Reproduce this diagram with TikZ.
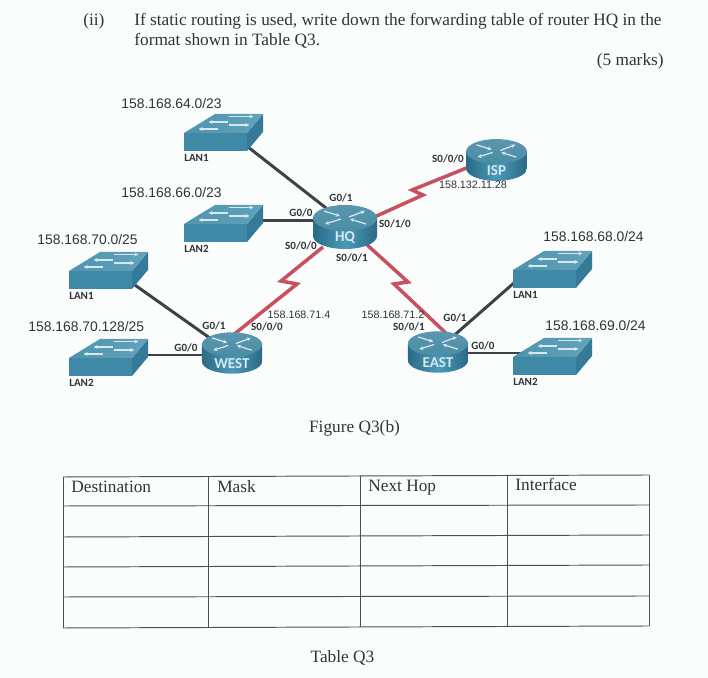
\documentclass[tikz,border=0pt]{standalone}
\usepackage{fontspec}
\setmainfont{Liberation Serif}
\newfontfamily\ipfont{Liberation Sans}
\newfontfamily\portfont{Carlito}
\usetikzlibrary{backgrounds, arrows.meta}

\definecolor{papercol}{HTML}{FBFDFD}
\definecolor{inkcol}{HTML}{303438}
\definecolor{wancol}{HTML}{C9505E}
\definecolor{lancol}{HTML}{3E4246}
\definecolor{gridcol}{HTML}{4C5054}
\definecolor{arrowcol}{HTML}{D5E8EF}
\definecolor{bodyedge}{HTML}{2A6A85}
\definecolor{bodymid}{HTML}{4A9AB8}
\definecolor{toplight}{HTML}{5B97AE}
\definecolor{topdark}{HTML}{4A8CA6}
\definecolor{swfront}{HTML}{3F88A6}
\definecolor{swside}{HTML}{357A98}
\definecolor{swtopa}{HTML}{4F93AE}
\definecolor{swtopb}{HTML}{62A3BB}

\tikzset{
    bodytext/.style={anchor=base west, inner sep=0pt, text=inkcol, font=\fontsize{9.85}{11}\selectfont},
    bigip/.style={anchor=west, inner sep=0pt, text=inkcol, font=\ipfont\fontsize{7.9}{9}\selectfont},
    smallip/.style={inner sep=0pt, text=inkcol, font=\ipfont\fontsize{6.1}{7}\selectfont},
    portlabel/.style={inner sep=0pt, text=inkcol, font=\portfont\bfseries\fontsize{6.3}{7}\selectfont},
    routerbox/.style={inner sep=0pt, text=arrowcol, font=\portfont\bfseries\fontsize{8.6}{10}\selectfont},
    switchbox/.style={inner sep=0pt, minimum width=1.58cm, minimum height=0.74cm},
    wanlink/.style={wancol, line width=2pt, line join=miter},
    lanlink/.style={lancol, line width=1.7pt},
    gridline/.style={gridcol, line width=0.55pt},
    iconarrow/.style={arrowcol, line width=0.7pt, -{Stealth[length=2.4pt,width=2.2pt]}},
    routerpic/.pic={
        % body of the cylinder
        \shade[left color=bodyedge, right color=bodyedge, middle color=bodymid]
            (-32,-9) -- (-32,9) .. controls (-32,16.2) and (-17.7,22) .. (0,22)
            .. controls (17.7,22) and (32,16.2) .. (32,9) -- (32,-9) -- cycle;
        % top face
        \shade[top color=toplight, bottom color=topdark] (0,-9) ellipse [x radius=32, y radius=13];
        % arrows on the top face
        \draw[iconarrow] (-4,-8) -- (-20,-3);
        \draw[iconarrow] (4,-10) -- (20,-16);
        \draw[iconarrow] (-21,-16) -- (-5,-11);
        \draw[iconarrow] (21,-3) -- (5,-8);
    },
    switchpic/.pic={
        \fill[swfront] (-39.5,0.5) -- (23.5,0.5) -- (23.5,18.5) -- (-39.5,18.5) -- cycle; % front
        \fill[swside] (23.5,0.5) -- (39.5,-18.5) -- (39.5,-0.5) -- (23.5,18.5) -- cycle; % side
        \shade[left color=swtopa, right color=swtopb]
            (-39.5,0.5) -- (-8.5,-18.5) -- (39.5,-18.5) -- (23.5,0.5) -- cycle; % top
        % arrows on the top face
        \draw[iconarrow] (5,-16) -- (30,-16);
        \draw[iconarrow] (4,-10.5) -- (-15,-10.5);
        \draw[iconarrow] (5,-7.5) -- (26,-7.5);
        \draw[iconarrow] (-6,-3.5) -- (-25,-3.5);
    },
}

\begin{document}
\begin{tikzpicture}[x=0.02cm, y=-0.02cm]
    \useasboundingbox (0,0) rectangle (708,678);

    % Question text
    \node[bodytext] (qnum) at (83,26) {(ii)};
    \node[bodytext] (qlineA) at (134,26) {If static routing is used, write down the forwarding table of router HQ in the};
    \node[bodytext] (qlineB) at (134,46) {format shown in Table Q3.};
    \node[bodytext, anchor=base east] (qmarks) at (664,66) {(5 marks)};

    % Routers (label node sits on the body of the icon)
    \foreach \rname/\x/\y/\rsize in {HQ/345/227/1, WEST/232/353/0.94, EAST/438/352/0.94, ISP/496.5/160/0.95} {
        \pic[scale=\rsize] at (\x,\y) {routerpic};
        \node[routerbox] (\rname) at (\x,\y+11) {\rname};
    }

    % Switches with their LAN names
    \foreach \swname/\lan/\x/\y in {hqLanA/LAN1/223.5/132.5, hqLanB/LAN2/223.5/223.5,
                                    westLanA/LAN1/108.5/270.5, westLanB/LAN2/108.5/357.5,
                                    eastLanA/LAN1/552.5/269.5, eastLanB/LAN2/552.5/356.5} {
        \pic at (\x,\y) {switchpic};
        \node[switchbox] (\swname) at (\x,\y) {};
        \node[portlabel, anchor=west] (\swname name) at (\x-39.5,\y+25.5) {\lan};
    }

    % Links go under the icons
    \begin{scope}[on background layer]
        \fill[papercol] (0,0) rectangle (708,678);

        % Ethernet links
        \draw[lanlink] ([shift={(20,11)}]hqLanA.center) -- ([shift={(-10,-23)}]HQ.center);
        \draw[lanlink] ([shift={(30,-2.5)}]hqLanB.center) -- ([shift={(-25,-17)}]HQ.center);
        \draw[lanlink] ([shift={(20,10)}]westLanA.center) -- ([shift={(-18,-23)}]WEST.center);
        \draw[lanlink] ([shift={(30,-2.5)}]westLanB.center) -- ([shift={(-25,-9)}]WEST.center);
        \draw[lanlink] ([shift={(-30,6)}]eastLanA.center) -- ([shift={(12,-24)}]EAST.center);
        \draw[lanlink] ([shift={(-25,-3.5)}]eastLanB.center) -- ([shift={(20,-10)}]EAST.center);

        % Serial links with their zigzag
        \coordinate (ispzigA) at (423,195);
        \coordinate (ispzigB) at (412,190);
        \coordinate (westzigA) at (281,281);
        \coordinate (westzigB) at (297,284);
        \coordinate (eastzigA) at (408,282);
        \coordinate (eastzigB) at (394,284);
        \draw[wanlink] ([shift={(25,-19)}]HQ.center) -- (ispzigA) -- (ispzigB) -- ([shift={(-25,-5)}]ISP.center);
        \draw[wanlink] ([shift={(-22,9)}]HQ.center) -- (westzigA) -- (westzigB) -- ([shift={(0,-28)}]WEST.center);
        \draw[wanlink] ([shift={(20,5)}]HQ.center) -- (eastzigA) -- (eastzigB) -- ([shift={(12,-26)}]EAST.center);
    \end{scope}

    % Subnets
    \foreach \x/\y/\net in {121/104/{158.168.64.0/23}, 121/193/{158.168.66.0/23}, 37/240/{158.168.70.0/25},
                            28/327/{158.168.70.128/25}, 543/237/{158.168.68.0/24}, 545/326/{158.168.69.0/24}} {
        \node[bigip] at (\x,\y) {\net};
    }

    % Interface names
    \foreach \x/\y/\port in {341/198/{G0/1}, 301/213/{G0/0}, 301/246/{S0/0/0},
                             352/258/{S0/0/1}, 395/224/{S0/1/0}, 448/159/{S0/0/0},
                             214/326/{G0/1}, 186/348/{G0/0}, 267/327/{S0/0/0},
                             409/327/{S0/0/1}, 455/318/{G0/1}, 483/346/{G0/0}} {
        \node[portlabel] at (\x,\y) {\port};
    }

    % Serial addresses
    \node[smallip] (ispaddr) at (473,185) {158.132.11.28};
    \node[smallip] (westaddr) at (299,315) {158.168.71.4};
    \node[smallip] (eastaddr) at (393,315) {158.168.71.2};

    \node[bodytext, anchor=base] (figcap) at (354.5,433) {Figure Q3(b)};

    % Table grid, a little askew as on the scan
    \foreach \ya/\yb in {477/475, 506/505, 537/535, 567/565, 597/596, 628/626} {
        \draw[gridline] (63,\ya) -- (649,\yb);
    }
    \draw[gridline] (63,477) -- (63,628);
    \draw[gridline] (208,476) -- (208,628);
    \draw[gridline] (360,476) -- (360,627);
    \draw[gridline] (507,475) -- (507,627);
    \draw[gridline] (649,475) -- (649,626);

    % Table headers
    \node[bodytext] (headDest) at (71,493) {Destination};
    \node[bodytext] (headMask) at (217,493) {Mask};
    \node[bodytext] (headHop) at (368,492) {Next Hop};
    \node[bodytext] (headIface) at (515,491) {Interface};

    \node[bodytext, anchor=base] (tabcap) at (342.5,663) {Table Q3};
\end{tikzpicture}
\end{document}
